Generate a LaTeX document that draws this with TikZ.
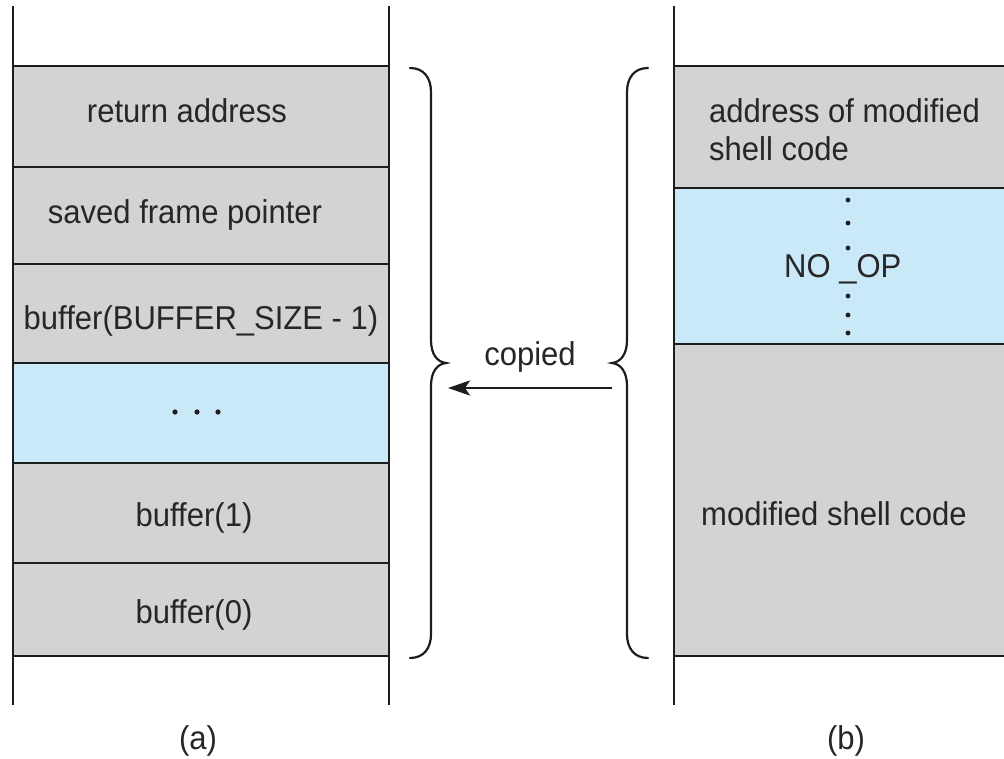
\documentclass[tikz,border=0pt]{standalone}
\usepackage{fontspec}
\setmainfont{Liberation Sans}[FakeStretch=0.94]
\usetikzlibrary{arrows.meta}
\definecolor{cellgray}{RGB}{209,211,212}
\definecolor{cellblue}{RGB}{201,232,248}
\definecolor{ink}{RGB}{30,28,29}
\definecolor{txt}{RGB}{38,38,38}
\tikzset{
  lbl/.style={text=txt, inner sep=0pt, font=\fontsize{33}{39}\selectfont},
  rule/.style={draw=ink, line width=2pt},
  bracepath/.style={draw=ink, line width=2.2pt, line cap=round},
  dotmark/.style={fill=ink, draw=none},
}
\begin{document}
\begin{tikzpicture}[x=1pt,y=-1pt]
\useasboundingbox (0,0) rectangle (1004,758);
% left stack fills
\fill[cellgray] (13,66) rectangle (389,363);
\fill[cellblue] (13,363) rectangle (389,463);
\fill[cellgray] (13,463) rectangle (389,656);
% right stack fills
\fill[cellgray] (674,66) rectangle (1004,188);
\fill[cellblue] (674,188) rectangle (1004,344);
\fill[cellgray] (674,344) rectangle (1004,656);
% horizontal rules
\foreach \yy in {66,167,264,363,463,563,656} \draw[rule] (13,\yy) -- (389,\yy);
\foreach \yy in {66,188,344,656} \draw[rule] (674,\yy) -- (1004,\yy);
% vertical rules
\draw[rule] (13,6) -- (13,705);
\draw[rule] (389,6) -- (389,705);
\draw[rule] (674,6) -- (674,705);
% left texts
\node[lbl, anchor=base] (ra) at (187,122) {return address};
\node[lbl, anchor=base] (sfp) at (185,223) {saved frame pointer};
\node[lbl, anchor=base] (bsz) at (201,329) {buffer(BUFFER\_SIZE - 1)};
\foreach \xx in {175,197,218} \fill[dotmark] (\xx,412) circle (2.6);
\node[lbl, anchor=base] (b1) at (194,526) {buffer(1)};
\node[lbl, anchor=base] (b0) at (194,623) {buffer(0)};
% right texts
\node[lbl, anchor=base west] (adr1) at (709,122) {address of modified};
\node[lbl, anchor=base west] (adr2) at (709,160) {shell code};
\node[lbl, anchor=base west] (noop) at (784,277) {NO \_OP};
\foreach \yy in {200,223,248,296,315,333} \fill[dotmark] (848,\yy) circle (2.4);
\node[lbl, anchor=base] (msc) at (834,525) {modified shell code};
% braces
\draw[bracepath] (410,68) .. controls (424,68) and (431,78) .. (431,92) -- (431,340)
  .. controls (431,354) and (437,362) .. (446,363)
  .. controls (437,364) and (431,372) .. (431,386) -- (431,634)
  .. controls (431,648) and (424,658) .. (410,658);
\draw[bracepath] (648,68) .. controls (634,68) and (627,78) .. (627,92) -- (627,340)
  .. controls (627,354) and (621,362) .. (612,363)
  .. controls (621,364) and (627,372) .. (627,386) -- (627,634)
  .. controls (627,648) and (634,658) .. (648,658);
% arrow
\coordinate (src) at (612,388);
\coordinate (dst) at (448,388);
\draw[draw=ink, line width=2.6pt, -{Stealth[length=22pt,width=15pt,inset=5pt]}] (src) -- (dst);
\node[lbl, anchor=base] (cp) at (530,365) {copied};
% captions
\node[lbl, anchor=base] (capa) at (198,749) {(a)};
\node[lbl, anchor=base] (capb) at (846,749) {(b)};
\end{tikzpicture}
\end{document}
